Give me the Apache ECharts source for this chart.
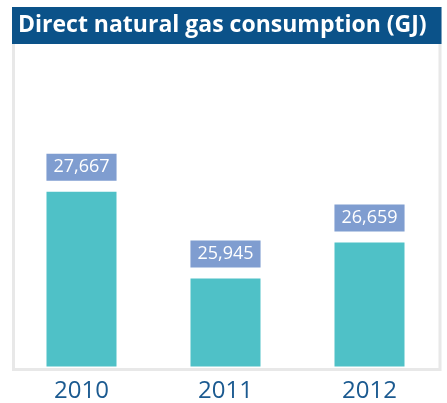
<!DOCTYPE html>
<html>
<head>
<meta charset="utf-8">
<script src="https://cdn.jsdelivr.net/npm/echarts@6/dist/echarts.min.js"></script>
<style>
  html, body { margin: 0; padding: 0; background: #ffffff; }
  #chart { width: 447px; height: 403px; }
</style>
</head>
<body>
<div id="chart"></div>
<script>
// Annual direct natural gas consumption, in gigajoules
const years = ['2010', '2011', '2012'];
const consumptionGJ = [27667, 25945, 26659];

const chart = echarts.init(document.getElementById('chart'), null, { renderer: 'canvas' });

const fmt = v => v.toLocaleString('en-US');

chart.setOption({
  animation: false,
  backgroundColor: '#ffffff',
  title: {
    text: 'Direct natural gas consumption (GJ)',
    left: 18,
    top: 10.5,
    padding: 0,
    textStyle: {
      color: '#ffffff',
      fontFamily: 'Open Sans',
      fontWeight: 'bold',
      fontSize: 23,
      lineHeight: 30
    }
  },
  graphic: [
    {
      // light frame around the plot panel
      type: 'polyline',
      z: -2,
      shape: { points: [[13.5, 7], [13.5, 369.5], [440, 369.5], [440, 7]] },
      style: { stroke: '#e8e8e8', lineWidth: 3, fill: null }
    },
    {
      // title band
      type: 'rect',
      z: -1,
      shape: { x: 12, y: 7, width: 429.5, height: 37 },
      style: { fill: '#0b5289' }
    }
  ],
  grid: {
    left: 9.5,
    right: 5.5,
    top: 44,
    bottom: 34
  },
  xAxis: {
    type: 'category',
    data: years,
    axisLine: { show: false },
    axisTick: { show: false },
    splitLine: { show: false },
    axisLabel: {
      margin: 12.5,
      color: '#1b5a90',
      fontFamily: 'Open Sans',
      fontSize: 24
    }
  },
  yAxis: {
    type: 'value',
    show: false,
    min: 24200,
    max: 30600,
    splitLine: { show: false }
  },
  series: [
    {
      type: 'bar',
      data: consumptionGJ,
      barWidth: 70,
      itemStyle: { color: '#4fc1c7' },
      label: {
        show: true,
        position: 'top',
        distance: 11,
        formatter: p => fmt(p.value),
        color: '#ffffff',
        fontFamily: 'Open Sans',
        fontSize: 18,
        lineHeight: 21,
        backgroundColor: '#7f9dd0',
        padding: [3, 7, 3, 7]
      }
    }
  ]
});
</script>
</body>
</html>
